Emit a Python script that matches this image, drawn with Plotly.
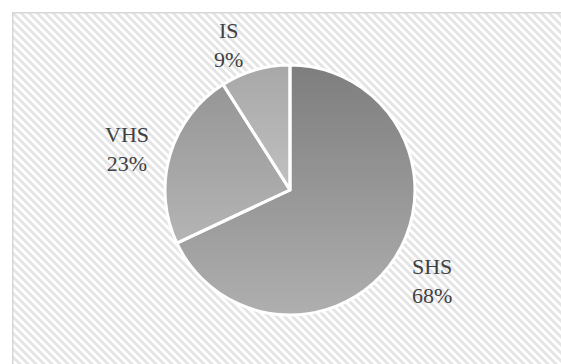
import base64
import plotly.graph_objects as go

# Share of each category (percent)
categories = ["SHS", "VHS", "IS"]
shares = [68, 23, 9]

W, H = 561, 364
cx, cy, r = 290, 190, 125          # pie centre and radius in px
label_pos = {"SHS": (432, 281), "VHS": (127, 149), "IS": (228, 45)}

# semi-transparent slice fills laid over a vertical grey gradient disc
slice_fill = ["rgba(172,172,172,0.5)", "rgba(212,212,212,0.5)", "rgba(255,255,255,0.5)"]
text_color = "#404040"
font_family = "Liberation Serif, Times New Roman, serif"


def svg_uri(svg):
    return "data:image/svg+xml;base64," + base64.b64encode(svg.encode()).decode()


# framed background with a downward diagonal hatch
fx0, fy0 = 12, 12
fw, fh = W - fx0, H - fy0
hatch_svg = f"""<svg xmlns='http://www.w3.org/2000/svg' width='{fw}' height='{fh}' viewBox='0 0 {fw} {fh}'>
<defs><pattern id='p' patternUnits='userSpaceOnUse' width='8' height='8'>
<rect width='8' height='8' fill='white'/>
<path d='M-2,-2 L10,10 M-2,6 L2,10 M6,-2 L10,2' stroke='#e4e4e4' stroke-width='2.8'/>
</pattern></defs>
<rect x='0' y='0' width='{fw}' height='{fh}' fill='url(#p)'/>
<line x1='0.75' y1='0' x2='0.75' y2='{fh}' stroke='#d6d6d6' stroke-width='1.5'/>
<line x1='0' y1='0.75' x2='{fw}' y2='0.75' stroke='#d6d6d6' stroke-width='1.5'/>
</svg>"""

# gradient disc beneath the pie: dark at the top, light at the bottom
d = 2 * r
grad_svg = f"""<svg xmlns='http://www.w3.org/2000/svg' width='{d}' height='{d}' viewBox='0 0 {d} {d}'>
<defs><linearGradient id='g' x1='0' y1='0' x2='0' y2='1'>
<stop offset='0' stop-color='rgb(80,80,80)'/>
<stop offset='1' stop-color='rgb(178,178,178)'/>
</linearGradient></defs>
<circle cx='{r}' cy='{r}' r='{r - 0.5}' fill='url(#g)'/>
</svg>"""

fig = go.Figure()

fig.add_trace(go.Pie(
    labels=categories,
    values=shares,
    sort=False,
    direction="clockwise",
    rotation=0,
    textinfo="none",
    hoverinfo="label+percent",
    showlegend=False,
    marker=dict(colors=slice_fill, line=dict(color="white", width=3)),
    domain=dict(x=[(cx - r) / W, (cx + r) / W], y=[1 - (cy + r) / H, 1 - (cy - r) / H]),
))

total = sum(shares)
annotations = []
for cat, val in zip(categories, shares):
    px, py = label_pos[cat]
    annotations.append(dict(
        x=px / W, y=1 - py / H, xref="paper", yref="paper",
        text=f"{cat}<br>{round(100 * val / total)}%",
        showarrow=False, xanchor="center", yanchor="middle", align="center",
        font=dict(family=font_family, size=22, color=text_color),
    ))

fig.update_layout(
    width=W, height=H,
    margin=dict(l=0, r=0, t=0, b=0),
    paper_bgcolor="white",
    plot_bgcolor="white",
    annotations=annotations,
    images=[
        dict(source=svg_uri(hatch_svg), xref="paper", yref="paper",
             x=fx0 / W, y=1 - fy0 / H, sizex=fw / W, sizey=fh / H,
             xanchor="left", yanchor="top", sizing="stretch", layer="below"),
        dict(source=svg_uri(grad_svg), xref="paper", yref="paper",
             x=(cx - r) / W, y=1 - (cy - r) / H, sizex=d / W, sizey=d / H,
             xanchor="left", yanchor="top", sizing="stretch", layer="below"),
    ],
)

fig.write_html("out.html")
